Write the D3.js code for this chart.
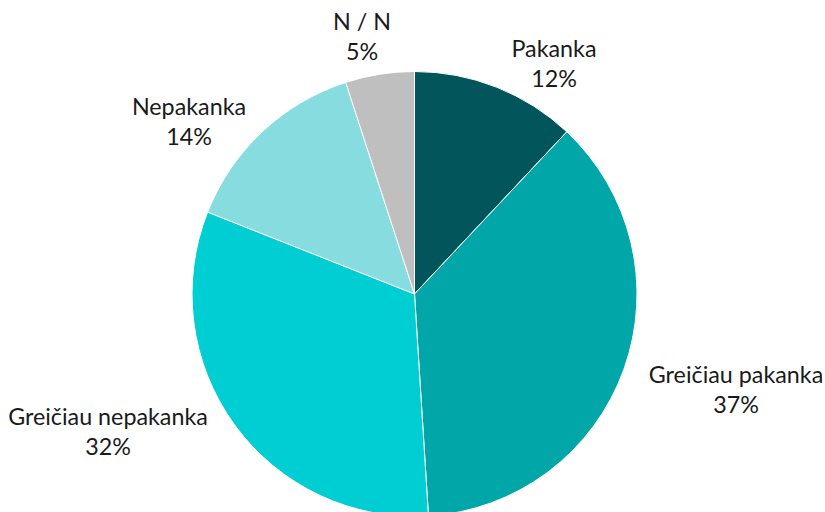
<!DOCTYPE html>
<html>
<head>
<meta charset="utf-8">
<script src="https://cdn.jsdelivr.net/npm/d3@7"></script>
<style>
  body { margin: 0; background: #fff; }
  text { font-family: Lato, "Open Sans", sans-serif; font-size: 23.3px; fill: #1a1a1a; }
</style>
</head>
<body>
<svg id="chart" width="825" height="512"></svg>
<script>
// categories and shares (%), clockwise from 12 o'clock
var categories = ["Pakanka", "Greičiau pakanka", "Greičiau nepakanka", "Nepakanka", "N / N"];
var values = [12, 37, 32, 14, 5];
var colors = ["#02565B", "#00A6A8", "#00CED3", "#86DCDE", "#BFBFBF"];

// label anchor points (centre x, first baseline y)
var labelPos = [[554, 57], [736, 383], [108, 425], [189, 115], [362, 30]];

var width = 825, height = 512;
var cx = 414.5, cy = 294, radius = 222.5;

var svg = d3.select("#chart");
var g = svg.append("g").attr("transform", "translate(" + cx + "," + cy + ")");

var data = categories.map(function(c, i){
    return {name: c, value: values[i], color: colors[i], pos: labelPos[i]};
});

var pie = d3.pie().sort(null).value(function(d){ return d.value; });
var arc = d3.arc().innerRadius(0).outerRadius(radius);

g.selectAll("path")
    .data(pie(data))
    .enter().append("path")
    .attr("d", arc)
    .attr("fill", function(d){ return d.data.color; })
    .attr("stroke", "#fff")
    .attr("stroke-width", 1);

// data labels
var labels = svg.selectAll(".label")
    .data(data)
    .enter().append("text")
    .attr("class", "label")
    .attr("text-anchor", "middle");

labels.append("tspan")
    .attr("x", function(d){ return d.pos[0]; })
    .attr("y", function(d){ return d.pos[1]; })
    .text(function(d){ return d.name; });

labels.append("tspan")
    .attr("x", function(d){ return d.pos[0]; })
    .attr("y", function(d){ return d.pos[1] + 30; })
    .text(function(d){ return d.value + "%"; });
</script>
</body>
</html>
